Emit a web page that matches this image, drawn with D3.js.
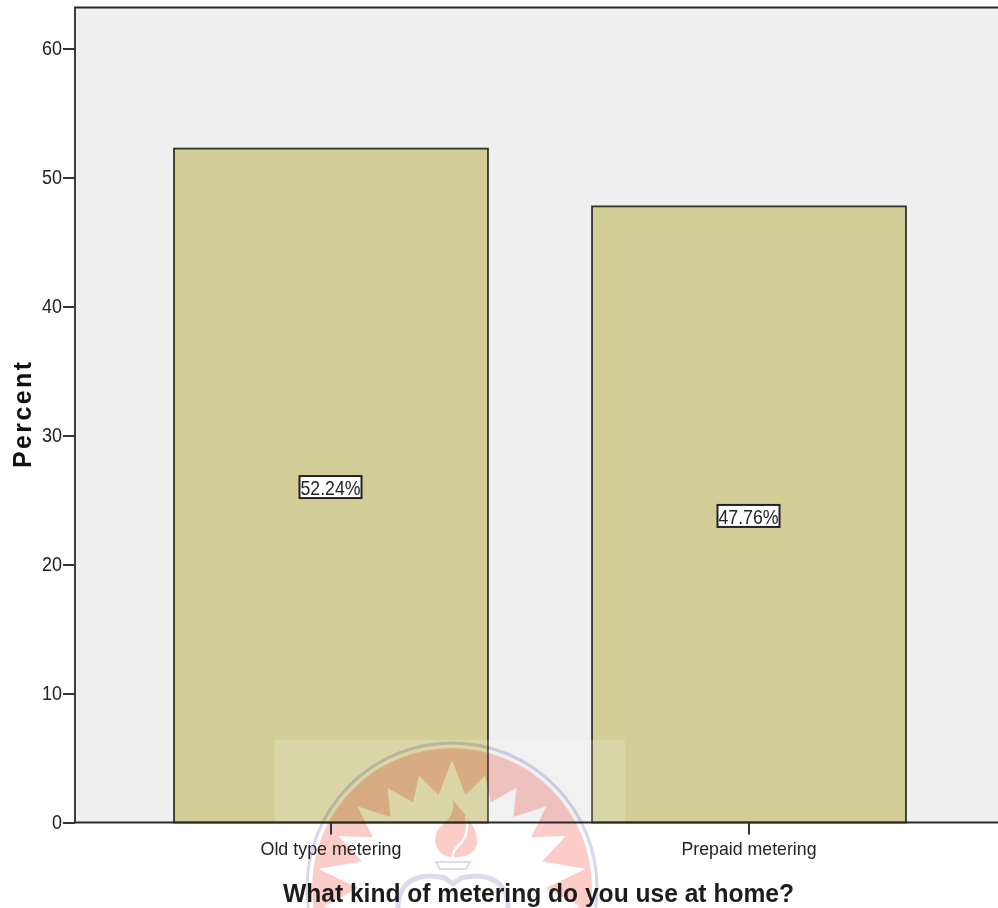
<!DOCTYPE html>
<html>
<head>
<meta charset="utf-8">
<script src="https://cdn.jsdelivr.net/npm/d3@7/dist/d3.min.js"></script>
<style>
html,body{margin:0;padding:0;background:#fff;overflow:hidden}
svg{display:block;font-family:"Liberation Sans",Arial,sans-serif}
</style>
</head>
<body>
<svg id="chart" width="998" height="908"></svg>
<script>
// Survey result: share of respondents per metering type
const categories = ["Old type metering", "Prepaid metering"];
const percents = [52.24, 47.76];
const valueLabels = ["52.24%", "47.76%"];
const yTicks = [0, 10, 20, 30, 40, 50, 60];
const xTitle = "What kind of metering do you use at home?";
const yTitle = "Percent";
// Spike lengths of the crest around its ring, starting from the top going clockwise
const crestSpikes = [128,117,119,125,125,135,130,124,126,128,126,128,126,128,126,124,130,135,125,125,119,117];

const svg = d3.select("#chart");
const plot = {left: 75, top: 7.5, right: 1010, bottom: 822.5};

const y = d3.scaleLinear().domain([0, 60]).range([plot.bottom, 48.5]);
const x = d3.scaleBand().domain(categories).range([122, 958]).paddingInner(0.249).paddingOuter(0.1245);

// Plot background
svg.append("rect")
  .attr("x", plot.left).attr("y", plot.top)
  .attr("width", plot.right - plot.left).attr("height", plot.bottom - plot.top)
  .attr("fill", "#efeff0");

// Bars
svg.append("g").selectAll("rect").data(percents).join("rect")
  .attr("x", (d, i) => x(categories[i]))
  .attr("y", d => y(d))
  .attr("width", x.bandwidth())
  .attr("height", d => y(0) - y(d))
  .attr("fill", "#d3ce97")
  .attr("stroke", "#333326")
  .attr("stroke-width", 1.8);

// Institutional crest laid over the lower centre of the page
const crest = svg.append("g").attr("class", "crest");
crest.append("rect")
  .attr("x", 275).attr("y", 740).attr("width", 350).attr("height", 82)
  .attr("fill", "#fff").attr("fill-opacity", 0.16);

const cx = 452, cy = 888;
const spikePath = d3.lineRadial().curve(d3.curveLinearClosed)(
  crestSpikes.flatMap((r, i) => {
    const step = 2 * Math.PI / crestSpikes.length;
    const a = i * step;
    return [[a, r], [a + step * 0.5, 94]];
  })
);
const hole = svg.append("defs").append("mask").attr("id", "sunburst");
hole.append("rect").attr("width", 998).attr("height", 908).attr("fill", "#fff");
hole.append("path").attr("transform", `translate(${cx},${cy})`).attr("d", spikePath).attr("fill", "#000");

const crestInner = crest.append("g").style("mix-blend-mode", "multiply");
crestInner.append("circle")
  .attr("cx", cx).attr("cy", cy).attr("r", 140)
  .attr("fill", "#fccdc8").attr("mask", "url(#sunburst)");
crestInner.append("circle")
  .attr("cx", cx).attr("cy", cy).attr("r", 145)
  .attr("fill", "none").attr("stroke", "#d8d6ea").attr("stroke-width", 3);
// Flame
crestInner.append("path")
  .attr("d", "M453,800C462,812 478,826 477,842C476,854 466,857 456,857L452,857C440,857 433,846 436,834C439,824 456,820 453,800Z")
  .attr("fill", "#fccdc8");
crestInner.append("path")
  .attr("d", "M466,816C469,830 466,838 459,845C453,851 452,854 453,857")
  .attr("fill", "none").attr("stroke", "#fff").attr("stroke-width", 2.5);
// Lamp
crestInner.append("path")
  .attr("d", "M436,862H470L466,869H440Z")
  .attr("fill", "none").attr("stroke", "#dcdaec").attr("stroke-width", 2);
crestInner.append("path")
  .attr("d", "M398,908C398,880 420,872 445,878L453,884L461,878C486,872 508,880 508,908")
  .attr("fill", "none").attr("stroke", "#dcdaec").attr("stroke-width", 5);

// Plot frame, drawn above the bars
const frame = d3.path();
frame.moveTo(plot.right, plot.top);
frame.lineTo(plot.left, plot.top);
frame.lineTo(plot.left, plot.bottom);
svg.append("path").attr("d", frame.toString()).attr("fill", "none").attr("stroke", "#2a2a2a").attr("stroke-width", 1.8);

// Axes
const yAxis = svg.append("g")
  .attr("transform", `translate(${plot.left},0)`)
  .call(d3.axisLeft(y).tickValues(yTicks).tickSize(12).tickPadding(1).tickFormat(d3.format("d")));
const xAxis = svg.append("g")
  .attr("transform", `translate(0,${plot.bottom})`)
  .call(d3.axisBottom(x).tickSize(12).tickPadding(7));
[yAxis, xAxis].forEach(a => {
  a.select(".domain").attr("stroke", "#2a2a2a").attr("stroke-width", 1.8);
  a.selectAll(".tick line").attr("stroke", "#333").attr("stroke-width", 2);
  a.selectAll("text").attr("fill", "#222").attr("font-family", "Liberation Sans, Arial, sans-serif");
});
yAxis.select(".domain").remove();
xAxis.select(".domain").attr("d", `M${plot.left},0H${plot.right}`);
yAxis.selectAll("text").attr("font-size", 20)
  .attr("textLength", d => d === 0 ? 10 : 20).attr("lengthAdjust", "spacingAndGlyphs");
xAxis.selectAll("text").attr("font-size", 19)
  .attr("textLength", d => d === categories[0] ? 141 : 135).attr("lengthAdjust", "spacingAndGlyphs");

// Value labels at mid height of each bar
const labels = svg.append("g").selectAll("g").data(percents).join("g")
  .attr("transform", (d, i) => `translate(${x(categories[i]) + x.bandwidth() / 2 - 0.5},${y(d / 2) + 1.5})`);
labels.append("rect")
  .attr("x", -31).attr("y", -11).attr("width", 62).attr("height", 22)
  .attr("fill", "#fff").attr("stroke", "#222").attr("stroke-width", 2);
labels.append("text")
  .text((d, i) => valueLabels[i])
  .attr("text-anchor", "middle").attr("dy", "0.36em")
  .attr("font-size", 21).attr("fill", "#222")
  .attr("textLength", 60).attr("lengthAdjust", "spacingAndGlyphs");

// Axis titles
svg.append("text")
  .text(xTitle)
  .attr("x", 538.5).attr("y", 902)
  .attr("text-anchor", "middle").attr("font-weight", "bold").attr("font-size", 26)
  .attr("fill", "#1c1c1c").attr("textLength", 511).attr("lengthAdjust", "spacingAndGlyphs");
svg.append("text")
  .text(yTitle)
  .attr("transform", "translate(31,415) rotate(-90)")
  .attr("text-anchor", "middle").attr("font-weight", "bold").attr("font-size", 25)
  .attr("fill", "#111").attr("textLength", 106);
</script>
</body>
</html>
